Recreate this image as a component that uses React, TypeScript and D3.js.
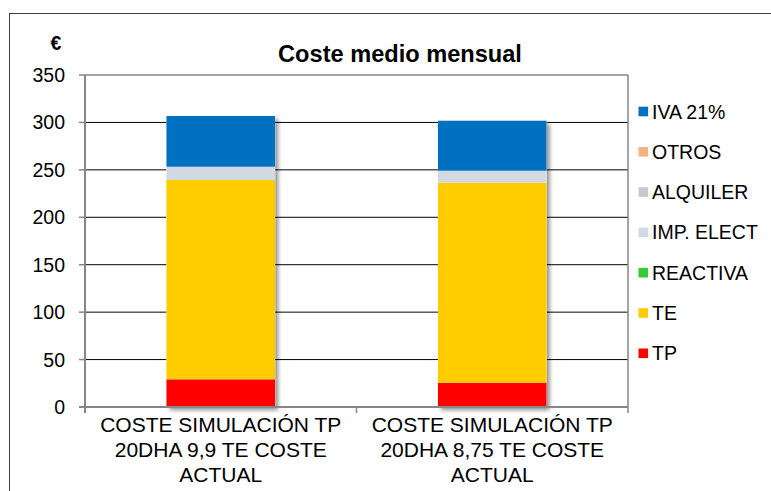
import React from "react";
import * as d3 from "d3";

const categories = [
  ["COSTE SIMULACIÓN TP", "20DHA 9,9 TE COSTE", "ACTUAL"],
  ["COSTE SIMULACIÓN TP", "20DHA 8,75 TE COSTE", "ACTUAL"],
];
const seriesNames = ["TP", "TE", "REACTIVA", "IMP. ELECT", "ALQUILER", "OTROS", "IVA 21%"];
const seriesColors = ["#FF0000", "#FFCC00", "#33CC33", "#D3D9E3", "#C8C8C8", "#F4B183", "#0070C0"];
const TP = [29.2, 25.6];
const TE = [210.1, 210.9];
const REACTIVA = [0, 0];
const IMP = [14.0, 12.6];
const ALQUILER = [0, 0];
const OTROS = [0, 0];
const IVA = [53.5, 52.7];
const yTicks = [0, 50, 100, 150, 200, 250, 300, 350];
const title = "Coste medio mensual";
const yUnit = "€";

export default function App() {
  const W = 771, H = 491;
  const left = 85, right = 628, top = 75, bottom = 407;
  const y = d3.scaleLinear().domain([0, 350]).range([bottom, top]);
  const x = d3.scaleBand<number>().domain(categories.map((_, i) => i)).range([left, right]);
  const barW = x.bandwidth() * 0.4;
  const seriesVals = [TP, TE, REACTIVA, IMP, ALQUILER, OTROS, IVA];
  const rows = categories.map((_, i) => {
    const r: any = { i };
    seriesNames.forEach((n, k) => (r[n] = seriesVals[k][i]));
    return r;
  });
  const stacked = d3.stack().keys(seriesNames)(rows);
  const font = "Liberation Sans, Arial, sans-serif";
  const legendTop = 111.5, legendStep = 40.3;
  const legendOrder = [...seriesNames].reverse();

  return (
    <svg width={W} height={H} style={{ position: "absolute", left: 0, top: 0 }}>
      <defs>
        <filter id="sh" x="-10%" y="-10%" width="130%" height="130%">
          <feGaussianBlur in="SourceAlpha" stdDeviation="2" />
          <feOffset dx="3" dy="3" result="b" />
          <feComponentTransfer><feFuncA type="linear" slope="0.45" /></feComponentTransfer>
          <feMerge><feMergeNode /><feMergeNode in="SourceGraphic" /></feMerge>
        </filter>
      </defs>
      <rect x={0} y={0} width={W} height={H} fill="#fff" />
      <rect x={9.5} y={13.5} width={800} height={500} fill="#fff" stroke="#404040" strokeWidth={1} />
      {/* gridlines */}
      {yTicks.filter(t => t > 0 && t < 350).map(t => (
        <line key={t} x1={left} x2={right} y1={y(t)} y2={y(t)} stroke="#000" strokeWidth={1} />
      ))}
      {/* plot frame top/right */}
      <line x1={left} x2={right} y1={y(350)} y2={y(350)} stroke="#868686" strokeWidth={1.5} />
      <line x1={right} x2={right} y1={y(350)} y2={bottom} stroke="#868686" strokeWidth={1.5} />
      {/* bars */}
      {categories.map((_, i) => {
        const cx = (x(i) as number) + x.bandwidth() / 2;
        const yTop = y(stacked[stacked.length - 1][i][1]);
        return (
          <g key={i}>
            <rect x={cx - barW / 2} y={yTop} width={barW} height={bottom - yTop} fill="#fff" filter="url(#sh)" />
            {stacked.map((s, k) => {
              const d = s[i];
              const h = y(d[0]) - y(d[1]);
              if (h <= 0) return null;
              return <rect key={k} x={cx - barW / 2} y={y(d[1])} width={barW} height={h} fill={seriesColors[k]} />;
            })}
          </g>
        );
      })}
      {/* axes */}
      <line x1={left} x2={left} y1={y(350)} y2={bottom + 6} stroke="#868686" strokeWidth={2} />
      <line x1={left - 6} x2={right} y1={bottom} y2={bottom} stroke="#868686" strokeWidth={2} />
      {yTicks.map(t => (
        <g key={t}>
          <line x1={left - 6} x2={left} y1={y(t)} y2={y(t)} stroke="#868686" strokeWidth={1.5} />
          <text x={65} y={y(t)} dy="0.36em" textAnchor="end" fontFamily={font} fontSize={19.5} fill="#000">{t}</text>
        </g>
      ))}
      {[0, 1, 2].map(i => {
        const xx = i < 2 ? (x(i) as number) : right;
        return <line key={i} x1={xx} x2={xx} y1={bottom} y2={bottom + 6} stroke="#868686" strokeWidth={1.5} />;
      })}
      {categories.map((lines, i) => {
        const cx = (x(i) as number) + x.bandwidth() / 2;
        return (
          <text key={i} textAnchor="middle" fontFamily={font} fontSize={21} fill="#000">
            {lines.map((l, j) => (
              <tspan key={j} x={cx} y={431.5 + j * 25.1}>{l}</tspan>
            ))}
          </text>
        );
      })}
      {/* title */}
      <text x={400} y={61.7} textAnchor="middle" fontFamily={font} fontSize={23.6} fontWeight="bold" fill="#000">{title}</text>
      <text x={56} y={50} textAnchor="middle" fontFamily={font} fontSize={19.5} fontWeight="bold" fill="#000">{yUnit}</text>
      {/* legend */}
      {legendOrder.map((n, j) => {
        const k = seriesNames.indexOf(n);
        const cy = legendTop + j * legendStep;
        return (
          <g key={n}>
            <rect x={638.5} y={cy - 4.8} width={9.6} height={9.6} fill={seriesColors[k]} />
            <text x={652} y={cy} dy="0.36em" fontFamily={font} fontSize={19.5} fill="#000">{n}</text>
          </g>
        );
      })}
    </svg>
  );
}
